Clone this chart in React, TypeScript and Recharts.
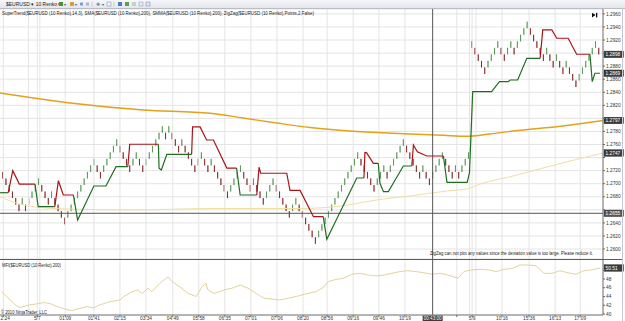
import React from 'react'
import { Bar, CartesianGrid, Cell, ComposedChart, Line, ReferenceLine, XAxis, YAxis } from 'recharts'

// Renko bricks (10 pips): bottom of each box, left to right
const brickLow = [
  1.2708, 1.2698, 1.2688, 1.2678, 1.2668, 1.2658, 1.2668, 1.2658, 1.2668, 1.2678,
  1.2688, 1.2698, 1.2688, 1.2678, 1.2668, 1.2678, 1.2668, 1.2658, 1.2648, 1.2638,
  1.2648, 1.2658, 1.2668, 1.2678, 1.2688, 1.2698, 1.2708, 1.2718, 1.2728, 1.2718,
  1.2708, 1.2718, 1.2728, 1.2738, 1.2748, 1.2758, 1.2748, 1.2738, 1.2728, 1.2718,
  1.2728, 1.2738, 1.2728, 1.2718, 1.2728, 1.2738, 1.2748, 1.2758, 1.2768, 1.2778,
  1.2768, 1.2778, 1.2768, 1.2758, 1.2748, 1.2758, 1.2748, 1.2738, 1.2728, 1.2718,
  1.2728, 1.2738, 1.2728, 1.2718, 1.2728, 1.2718, 1.2708, 1.2698, 1.2688, 1.2678,
  1.2688, 1.2698, 1.2708, 1.2718, 1.2708, 1.2698, 1.2688, 1.2698, 1.2688, 1.2678,
  1.2668, 1.2678, 1.2688, 1.2698, 1.2688, 1.2678, 1.2668, 1.2658, 1.2648, 1.2658,
  1.2668, 1.2658, 1.2648, 1.2638, 1.2628, 1.2618, 1.2608, 1.2618, 1.2628, 1.2638,
  1.2648, 1.2658, 1.2668, 1.2678, 1.2688, 1.2698, 1.2708, 1.2718, 1.2728, 1.2738,
  1.2728, 1.2718, 1.2708, 1.2698, 1.2688, 1.2698, 1.2708, 1.2718, 1.2708, 1.2718,
  1.2728, 1.2738, 1.2748, 1.2758, 1.2748, 1.2738, 1.2728, 1.2718, 1.2708, 1.2718,
  1.2708, 1.2698, 1.2708, 1.2718, 1.2728, 1.2738, 1.2728, 1.2718, 1.2708, 1.2718,
  1.2708, 1.2718, 1.2728, 1.2738, 1.2908, 1.2898, 1.2888, 1.2878, 1.2868, 1.2878,
  1.2888, 1.2898, 1.2908, 1.2898, 1.2888, 1.2898, 1.2908, 1.2898, 1.2908, 1.2918,
  1.2928, 1.2938, 1.2928, 1.2918, 1.2908, 1.2898, 1.2888, 1.2898, 1.2888, 1.2878,
  1.2888, 1.2878, 1.2868, 1.2878, 1.2868, 1.2858, 1.2848, 1.2858, 1.2868, 1.2878,
  1.2888, 1.2898, 1.2908, 1.2898,
]
// u = up (green) brick, d = down (red) brick
const brickDir = 'dddddduduu uudddudddd uuuuuuuuud duuuuudddd uudduuuuuu dudddudddd uudduddddd uuuudddudd duuudddddu udddddduuu uuuuuuuuuu ddddduuudu uuuudddddu dduuuudddu duuudddddu uuudduuduu uudddddudd udduddduuu uuud'.replace(/ /g, '')
const BRICK = 0.001

// SuperTrend(14,3): [bar, price] vertices of each up (green) and down (red) stretch
const stUpSegments: [number, number][][] = [
  [[-0.8, 1.26862], [1.7, 1.26862]],
  [[9.9, 1.26995], [10.9, 1.26648], [16.0, 1.26648]],
  [[21.7, 1.26827], [23.0, 1.26444], [28.0, 1.26965], [31.7, 1.26965], [34.8, 1.2726], [38.4, 1.2726]],
  [[47.8, 1.27604], [48.0, 1.27236], [48.7, 1.2721], [50.4, 1.2745], [58.0, 1.2745]],
  [[71.8, 1.2724], [72.9, 1.26827], [78.0, 1.26827]],
  [[98.4, 1.26495], [99.5, 1.26148], [108.7, 1.27087], [110.9, 1.27087]],
  [[115.3, 1.27312], [115.8, 1.2701], [116.9, 1.26878], [118.4, 1.26878], [119.9, 1.27006], [123.0, 1.27271], [125.6, 1.27271]],
  [[135.3, 1.27424], [136.4, 1.27021], [142.6, 1.27021], [143.3, 1.27164], [144.3, 1.28409], [150.1, 1.28409], [152.5, 1.28562], [155.2, 1.28562], [155.8, 1.28588], [158.1, 1.28588], [160.9, 1.2892], [165.0, 1.2892]],
  [[180.3, 1.28982], [181.0, 1.28562], [181.8, 1.28691], [183.4, 1.28691]],
]
const stDownSegments: [number, number][][] = [
  [[1.7, 1.26862], [3.1, 1.272], [5.1, 1.26995], [9.9, 1.26995]],
  [[16.0, 1.26648], [17.1, 1.27046], [18.6, 1.26827], [21.7, 1.26827]],
  [[38.4, 1.2726], [39.0, 1.27604], [47.8, 1.27604]],
  [[58.0, 1.2745], [58.3, 1.2787], [60.6, 1.2787], [62.6, 1.27669], [64.7, 1.27669], [68.8, 1.2724], [71.8, 1.2724]],
  [[78.0, 1.26827], [78.7, 1.27252], [79.2, 1.2716], [87.2, 1.2716], [88.2, 1.26898], [91.3, 1.26898], [95.4, 1.26495], [98.4, 1.26495]],
  [[110.9, 1.27087], [111.2, 1.27475], [111.7, 1.27475], [113.8, 1.27312], [115.3, 1.27312]],
  [[125.6, 1.27271], [126.1, 1.27593], [127.3, 1.2749], [130.2, 1.27424], [135.3, 1.27424]],
  [[165.0, 1.2892], [165.8, 1.29354], [168.6, 1.29354], [170.1, 1.29227], [173.6, 1.29227], [176.2, 1.28982], [180.3, 1.28982]],
]

// SMA(200) and SMMA(200)
const smaPoints: [number, number][] = [
  [-0.83, 1.28389], [20.7, 1.28236], [43.1, 1.28129], [63.7, 1.28078], [73.8, 1.28006], [84.1, 1.2793],
  [94.4, 1.27861], [104.5, 1.27815], [114.8, 1.27784], [125.1, 1.27761], [135.2, 1.27741], [142.5, 1.27726],
  [149.6, 1.27761], [156.7, 1.27807], [172.0, 1.27884], [184.3, 1.27968],
]
const smmaPoints: [number, number][] = [
  [-0.83, 1.26801], [4.4, 1.267], [9.3, 1.26648], [19.7, 1.26613], [40.0, 1.26597], [63.7, 1.2662],
  [91.3, 1.2662], [103.6, 1.26658], [115.8, 1.26758], [126.0, 1.26819], [136.3, 1.26888], [142.9, 1.26926],
  [146.6, 1.26995], [156.7, 1.27118], [167.1, 1.27256], [177.3, 1.27386], [184.3, 1.2747],
]

// MFI(200), lower panel
const mfiPoints: [number, number][] = [
  [-0.3, 45.1], [1.2, 44.0], [3.8, 42.1], [5.3, 41.5], [8.4, 42.1], [10.4, 42.3], [12.5, 42.6], [14.5, 42.4],
  [16.6, 41.7], [19.1, 41.1], [21.2, 40.8], [23.7, 41.3], [25.8, 41.7], [27.8, 41.4], [29.9, 42.1], [32.9, 42.8],
  [36.0, 43.2], [37.2, 44.0], [39.7, 45.1], [41.5, 45.5], [42.8, 44.7], [44.6, 45.9], [45.8, 45.1], [47.7, 46.6],
  [49.5, 47.8], [50.8, 48.5], [52.0, 47.4], [54.4, 46.2], [56.9, 44.7], [59.4, 44.0], [61.2, 46.2], [62.4, 47.0],
  [63.0, 45.5], [64.9, 44.7], [68.0, 45.5], [70.4, 45.9], [72.9, 46.6], [75.3, 45.9], [77.8, 44.7], [80.2, 43.6],
  [85.1, 43.2], [90.1, 44.0], [93.7, 44.7], [96.2, 45.1], [98.7, 46.2], [99.9, 47.4], [102.3, 47.9], [104.8, 48.2],
  [107.3, 49.1], [109.7, 49.3], [112.2, 48.9], [114.6, 48.7], [117.1, 48.9], [119.5, 49.3], [122.0, 49.7], [124.4, 49.9],
  [126.9, 49.7], [129.4, 49.4], [131.8, 49.1], [134.3, 49.3], [136.7, 48.9], [139.8, 48.2], [141.6, 49.7], [144.1, 50.1],
  [146.6, 50.2], [149.0, 50.1], [151.5, 49.7], [153.9, 50.2], [156.4, 50.4], [158.8, 51.2], [161.3, 51.2], [163.7, 51.0],
  [166.2, 49.3], [168.7, 49.3], [171.1, 49.9], [173.6, 49.4], [176.0, 49.1], [178.5, 49.9], [180.9, 50.1], [183.4, 50.51],
]

const priceTicks = [1.26, 1.262, 1.264, 1.266, 1.268, 1.27, 1.272, 1.274, 1.276, 1.278, 1.28, 1.282, 1.284, 1.286, 1.288, 1.29, 1.292, 1.294, 1.296]
const mfiTicks = [40, 42, 44, 46, 48, 50]
const timeTicks = [0.2, 10.6, 19.2, 28.0, 36.0, 44.0, 52.2, 60.2, 68.2, 76.2, 84.2, 92.2, 99.6, 107.6, 115.5, 123.5, 139.4, 144.1, 153.3, 161.6, 169.6, 177.3]
const timeLabels = ['2:24', '5/7', '01:09', '01:41', '02:15', '03:34', '04:49', '05:58', '06:35', '07:01', '07:06', '08:20', '08:56', '09:16', '09:46', '10:19', '', '5/9', '10:16', '15:36', '16:13', '17:09']
const sessionLines = [7.9, 11.4, 143.3, 145.3]

const CROSS_BAR = 132.0
const CROSS_PRICE = 1.26547
const CROSS_TIME = '00:43:00'

// last-value markers on the price scale
const priceBadges: [number, string][] = [[1.2898, '1.2898'], [1.28691, '1.2869'], [1.27968, '1.2797'], [1.2747, '1.2747']]
const mfiBadge: [number, string] = [50.51, '50.51']

const X_DOMAIN: [number, number] = [-0.83, 184.3]
const PRICE_DOMAIN: [number, number] = [1.25847, 1.29675]
const MFI_DOMAIN: [number, number] = [39.77, 52.34]

const INK = '#333'
const GRID = '#e4e4e4'
const AXIS = '#6a6a6a'
const UP_FILL = '#a4d59e'
const UP_EDGE = '#3a853a'
const DOWN_FILL = '#ad1218'
const DOWN_EDGE = '#6e0808'
const ST_UP = '#1f6e1f'
const ST_DOWN = '#a81418'
const SMA_COLOR = '#e3a21a'
const SMMA_COLOR = '#f0dfa2'
const MFI_COLOR = '#e3d49a'
const FONT = 'Arial, "Liberation Sans", sans-serif'

const bricks = brickLow.map((low, i) => ({ i, box: [low, low + BRICK], up: brickDir[i] === 'u' }))
const toPts = (seg: [number, number][]) => seg.map(([i, v]) => ({ i, v }))
const badgeValues = [...priceBadges.map((b) => b[0]), CROSS_PRICE]

function Badge({ viewBox, text, fill = '#3c3c3c' }: any) {
  const { x, y, width } = viewBox
  const left = x + width + 1
  return (
    <g>
      <rect x={left} y={y - 3.3} width={19.5} height={6.6} fill={fill} stroke="#222" strokeWidth={0.4} />
      <text x={left + 1.6} y={y + 1.8} fontSize={4.8} fill="#fff" fontFamily={FONT}>{text}</text>
    </g>
  )
}

function TimeBadge({ viewBox, text }: any) {
  const { x, y, height } = viewBox
  return (
    <g>
      <rect x={x - 10} y={y + height + 0.5} width={20} height={6} fill="#3c3c3c" />
      <text x={x} y={y + height + 5} fontSize={4.6} fill="#fff" textAnchor="middle" fontFamily={FONT}>{text}</text>
    </g>
  )
}

// a badge sits on top of the scale label it covers
function PriceTick({ x, y, payload }: any) {
  const hidden = badgeValues.some((b) => Math.abs(b - payload.value) < 0.0007)
  if (hidden) return null
  return <text x={x} y={y + 1.7} fontSize={4.8} fill={INK} fontFamily={FONT}>{payload.value.toFixed(4)}</text>
}

function MfiTick({ x, y, payload }: any) {
  if (Math.abs(payload.value - mfiBadge[0]) < 1.2) return null
  return <text x={x} y={y + 1.7} fontSize={4.8} fill={INK} fontFamily={FONT}>{payload.value}</text>
}

function TimeTick({ x, y, payload }: any) {
  const k = timeTicks.indexOf(payload.value)
  const first = k === 0
  return (
    <text x={first ? 0.5 : x} y={y + 3.3} fontSize={4.8} fill={INK} textAnchor={first ? 'start' : 'middle'} fontFamily={FONT}>
      {timeLabels[k] ?? ''}
    </text>
  )
}

function Toolbar() {
  return (
    <div style={{ position: 'absolute', left: 0, top: 0, width: 625, height: 8, background: 'linear-gradient(#f6f7f9, #e3e6eb)', borderBottom: '1px solid #b9bcc2' }}>
      <svg width={625} height={8} style={{ position: 'absolute', left: 0, top: 0 }}>
        <text x={6} y={5.8} fontSize={5} fill="#222" fontFamily={FONT}>$EURUSD ▾ 10 Renko ▾</text>
        <rect x={59} y={2} width={4} height={4} fill="#3a9a3a" />
        <text x={64} y={5.8} fontSize={4} fill="#555">▾</text>
        <rect x={70} y={2} width={4} height={4} fill="#d8a030" />
        <text x={75} y={5.8} fontSize={4} fill="#555">▾</text>
        <rect x={80} y={2.5} width={3} height={3} fill="#7aa0d8" />
        <rect x={86} y={2.5} width={3} height={3} fill="#b0b8c8" />
        <line x1={92} y1={1.5} x2={92} y2={6.5} stroke="#aaa" strokeWidth={0.5} />
        <text x={96} y={6} fontSize={5} fill="#4a6fa8">✥</text>
        <text x={102} y={5.8} fontSize={4} fill="#555">▾</text>
        <rect x={107} y={2} width={4} height={4} fill="#f4f4f4" stroke="#6a8ac0" strokeWidth={0.5} />
        <line x1={114} y1={1.5} x2={114} y2={6.5} stroke="#aaa" strokeWidth={0.5} />
        <rect x={118} y={2} width={4} height={4} fill="#4a7ac0" />
        <rect x={125} y={2} width={4} height={4} fill="#5aa050" />
        <rect x={132} y={2} width={4} height={4} fill="#c8ccd4" />
        <rect x={139} y={2} width={4} height={4} fill="#e8e8e8" stroke="#8a9ab8" strokeWidth={0.5} />
        <rect x={146} y={2} width={4} height={4} fill="#dfe6f2" stroke="#6a8ac0" strokeWidth={0.5} />
      </svg>
    </div>
  )
}

function Overlay() {
  return (
    <svg width={625} height={321} style={{ position: 'absolute', left: 0, top: 0, pointerEvents: 'none' }}>
      <text x={2} y={14.6} fontSize={5} fill="#222" fontFamily={FONT} textLength={312} lengthAdjust="spacingAndGlyphs">
        SuperTrend($EURUSD (10 Renko),14,3), SMA($EURUSD (10 Renko),200), SMMA($EURUSD (10 Renko),200), ZigZag($EURUSD (10 Renko),Points,2,False)
      </text>
      <polygon points="592,12.8 592,17.4 595.6,15.1" fill="#111" />
      <rect x={596} y={12.8} width={1.3} height={4.6} fill="#111" />
      <text x={430} y={254.6} fontSize={5} fill="#222" fontFamily={FONT} textLength={163} lengthAdjust="spacingAndGlyphs">
        ZigZag can not plot any values since the deviation value is too large. Please reduce it.
      </text>
      <text x={2} y={266.6} fontSize={4.8} fill="#222" fontFamily={FONT} textLength={59} lengthAdjust="spacingAndGlyphs">
        MFI($EURUSD (10 Renko),200)
      </text>
      <text x={1} y={313.8} fontSize={4.8} fill="#222" fontFamily={FONT} textLength={46} lengthAdjust="spacingAndGlyphs">
        © 2010 NinjaTrader, LLC
      </text>
      <line x1={0} y1={259.5} x2={622} y2={259.5} stroke="#5a5a5a" strokeWidth={1} />
      <line x1={622.5} y1={8} x2={622.5} y2={321} stroke="#c4c8d0" strokeWidth={1} />
    </svg>
  )
}

export default function App() {
  return (
    <div style={{ position: 'absolute', left: 0, top: 0, width: 625, height: 321, background: '#fff', overflow: 'hidden', fontFamily: FONT }}>
      <Toolbar />
      <div style={{ position: 'absolute', left: 0, top: 9 }}>
        <ComposedChart width={625} height={250} data={bricks} margin={{ top: 0, right: 0, bottom: 0, left: 0 }}>
          <CartesianGrid vertical={false} stroke={GRID} />
          <XAxis type="number" dataKey="i" domain={X_DOMAIN} allowDataOverflow hide />
          <YAxis orientation="right" width={22} domain={PRICE_DOMAIN} allowDataOverflow ticks={priceTicks} interval={0}
            tick={<PriceTick />} tickSize={2} tickMargin={1} tickLine={{ stroke: AXIS }} axisLine={{ stroke: AXIS }} />
          {timeTicks.map((t) => <ReferenceLine key={'g' + t} x={t} stroke={GRID} />)}
          {sessionLines.map((t) => <ReferenceLine key={'s' + t} x={t} stroke={GRID} />)}
          <Line data={toPts(smmaPoints)} dataKey="v" type="monotone" stroke={SMMA_COLOR} strokeWidth={1} dot={false} isAnimationActive={false} />
          <Line data={toPts(smaPoints)} dataKey="v" type="monotone" stroke={SMA_COLOR} strokeWidth={1.4} dot={false} isAnimationActive={false} />
          <ReferenceLine x={CROSS_BAR} stroke="#555" />
          <ReferenceLine y={CROSS_PRICE} stroke="#555" />
          <Bar dataKey="box" barSize={3.2} isAnimationActive={false}>
            {bricks.map((b) => (
              <Cell key={b.i} fill={b.up ? UP_FILL : DOWN_FILL} stroke={b.up ? UP_EDGE : DOWN_EDGE} strokeWidth={0.6} />
            ))}
          </Bar>
          {stUpSegments.map((seg, k) => (
            <Line key={'up' + k} data={toPts(seg)} dataKey="v" type="linear" stroke={ST_UP} strokeWidth={1.2} dot={false} isAnimationActive={false} />
          ))}
          {stDownSegments.map((seg, k) => (
            <Line key={'dn' + k} data={toPts(seg)} dataKey="v" type="linear" stroke={ST_DOWN} strokeWidth={1.2} dot={false} isAnimationActive={false} />
          ))}
          {priceBadges.map(([v, t]) => (
            <ReferenceLine key={t} y={v} stroke="none" label={<Badge text={t} />} />
          ))}
          <ReferenceLine y={CROSS_PRICE} stroke="none" label={<Badge text="1.2655" fill="#555" />} />
        </ComposedChart>
      </div>
      <div style={{ position: 'absolute', left: 0, top: 260 }}>
        <ComposedChart width={625} height={61} margin={{ top: 0, right: 0, bottom: 0, left: 0 }}>
          <XAxis type="number" dataKey="i" domain={X_DOMAIN} allowDataOverflow ticks={timeTicks} interval={0} height={6}
            tick={<TimeTick />} tickSize={2} tickMargin={0} tickLine={{ stroke: AXIS }} axisLine={{ stroke: AXIS }} />
          <YAxis orientation="right" width={22} domain={MFI_DOMAIN} allowDataOverflow ticks={mfiTicks} interval={0}
            tick={<MfiTick />} tickSize={2} tickMargin={1} tickLine={{ stroke: AXIS }} axisLine={{ stroke: AXIS }} />
          {timeTicks.map((t) => <ReferenceLine key={'g' + t} x={t} stroke={GRID} />)}
          {sessionLines.map((t) => <ReferenceLine key={'s' + t} x={t} stroke={GRID} />)}
          <Line data={toPts(mfiPoints)} dataKey="v" type="linear" stroke={MFI_COLOR} strokeWidth={1} dot={false} isAnimationActive={false} />
          <ReferenceLine x={CROSS_BAR} stroke="#555" label={<TimeBadge text={CROSS_TIME} />} />
          <ReferenceLine y={mfiBadge[0]} stroke="none" label={<Badge text={mfiBadge[1]} />} />
        </ComposedChart>
      </div>
      <Overlay />
    </div>
  )
}
